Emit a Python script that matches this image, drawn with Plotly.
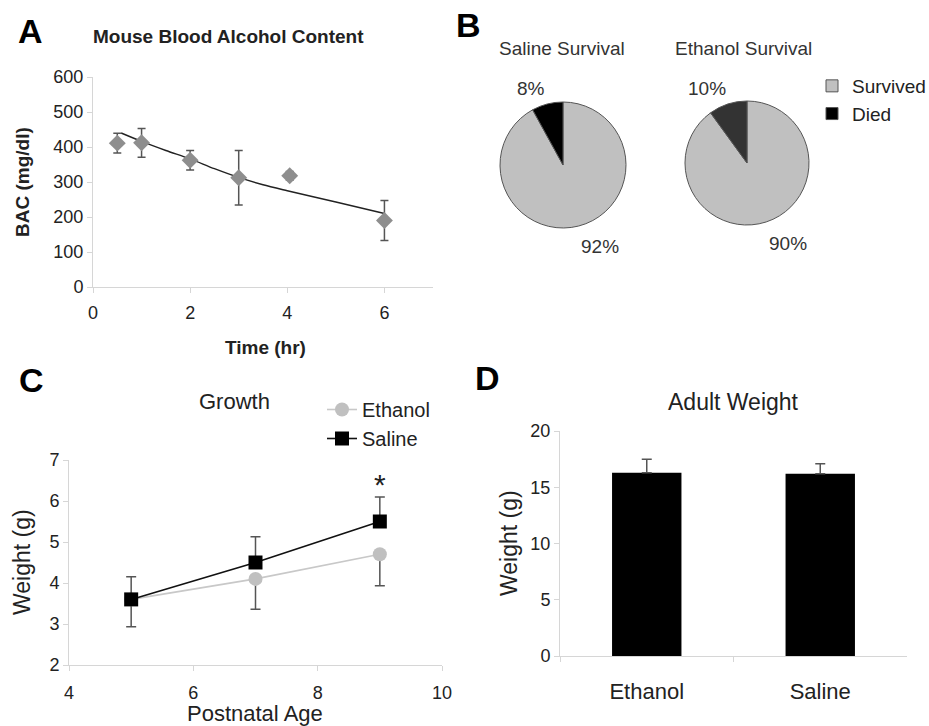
import plotly.graph_objects as go

W, H = 929, 726
FONT = "Liberation Sans, Arial, sans-serif"

# ---- Panel A data: Mouse Blood Alcohol Content ----
bac_time = [0.5, 1, 2, 3, 4.05, 6]
bac_mean = [411, 412, 362, 312, 318, 190]
bac_err = [28, 41, 28, 78, 12, 57]
fit_time = [0.58, 1, 1.5, 2, 2.5, 3, 3.5, 4, 5, 6]
fit_bac = [440, 416, 390, 366, 338, 313, 292, 275, 243, 210]

# ---- Panel B data: survival ----
surv_labels = ["Survived", "Died"]
saline_surv = [92, 8]
ethanol_surv = [90, 10]

# ---- Panel C data: growth ----
age = [5, 7, 9]
eth_weight = [3.6, 4.1, 4.7]
eth_err_minus = [0.67, 0.74, 0.77]
sal_weight = [3.6, 4.5, 5.5]
sal_err_plus = [0.55, 0.63, 0.6]

# ---- Panel D data: adult weight ----
groups = ["Ethanol", "Saline"]
adult_weight = [16.3, 16.2]
adult_err = [1.2, 0.9]


def px(x):
    return x / W


def py(y):
    return 1 - y / H


fig = go.Figure()

# Panel A
fig.add_trace(go.Scatter(
    x=fit_time, y=fit_bac, mode="lines", line=dict(color="#222222", width=1.4, shape="spline", smoothing=0.8),
    xaxis="x", yaxis="y", showlegend=False, hoverinfo="skip"))
fig.add_trace(go.Scatter(
    x=bac_time, y=bac_mean, mode="markers",
    marker=dict(symbol="diamond", size=13, color="#8e8e8e"),
    error_y=dict(type="data", array=bac_err, color="#555555", thickness=1.5, width=4),
    xaxis="x", yaxis="y", showlegend=False))

# Panel B pies
pie_colors_s = ["#c0c0c0", "#000000"]
pie_colors_e = ["#c0c0c0", "#333333"]
fig.add_trace(go.Pie(
    labels=surv_labels, values=saline_surv, sort=False, direction="clockwise", rotation=0,
    marker=dict(colors=pie_colors_s, line=dict(color="#555555", width=1)),
    textinfo="none",
    domain=dict(x=[px(500), px(626)], y=[py(228), py(102)]),
    legend="legend", showlegend=True))
fig.add_trace(go.Pie(
    labels=surv_labels, values=ethanol_surv, sort=False, direction="clockwise", rotation=0,
    marker=dict(colors=pie_colors_e, line=dict(color="#555555", width=1)),
    textinfo="none",
    domain=dict(x=[px(685), px(809)], y=[py(225), py(101)]),
    legend="legend", showlegend=False))

# Panel C
fig.add_trace(go.Scatter(
    x=age, y=eth_weight, mode="lines+markers", name="Ethanol",
    line=dict(color="#c8c8c8", width=1.6),
    marker=dict(symbol="circle", size=14, color="#c0c0c0"),
    error_y=dict(type="data", symmetric=False, array=[0, 0, 0], arrayminus=eth_err_minus,
                 color="#555555", thickness=1.5, width=5),
    xaxis="x2", yaxis="y2", legend="legend2"))
fig.add_trace(go.Scatter(
    x=age, y=sal_weight, mode="lines+markers", name="Saline",
    line=dict(color="#111111", width=1.6),
    marker=dict(symbol="square", size=14, color="#000000"),
    error_y=dict(type="data", symmetric=False, array=sal_err_plus, arrayminus=[0, 0, 0],
                 color="#555555", thickness=1.5, width=5),
    xaxis="x2", yaxis="y2", legend="legend2"))

# Panel D
fig.add_trace(go.Bar(
    x=groups, y=adult_weight, marker=dict(color="#000000", line=dict(color="#000000", width=0)),
    error_y=dict(type="data", symmetric=False, array=adult_err, arrayminus=[0, 0],
                 color="#555555", thickness=1.5, width=5),
    xaxis="x3", yaxis="y3", showlegend=False))

axis_common = dict(showline=True, linecolor="#d6d6d6", linewidth=1, ticks="outside",
                   tickcolor="#d6d6d6", ticklen=5, showgrid=False, zeroline=False,
                   automargin=False,
                   tickfont=dict(size=18, color="#222222", family=FONT))

fig.update_layout(
    width=W, height=H, margin=dict(l=0, r=0, t=0, b=0, pad=0, autoexpand=False),
    paper_bgcolor="white", plot_bgcolor="white",
    font=dict(family=FONT, color="#222222"),
    bargap=0.6,
    xaxis=dict(domain=[px(93), px(433)], range=[0, 7], tickvals=[0, 2, 4, 6],
               anchor="y", ticklabelstandoff=4, **axis_common),
    yaxis=dict(domain=[py(287), py(77)], range=[0, 600], tickvals=[0, 100, 200, 300, 400, 500, 600],
               anchor="x", **axis_common),
    xaxis2=dict(domain=[px(69), px(442)], range=[4, 10], tickvals=[4, 6, 8, 10],
                anchor="y2", ticklabelstandoff=6, **axis_common),
    yaxis2=dict(domain=[py(665), py(460)], range=[2, 7], tickvals=[2, 3, 4, 5, 6, 7],
                anchor="x2", **axis_common),
    xaxis3=dict(domain=[px(560), px(907)], range=[-0.5, 1.5], tickson="boundaries",
                anchor="y3", ticklabelstandoff=16,
                **{**axis_common, "tickfont": dict(size=22, color="#222222", family=FONT)}),
    yaxis3=dict(domain=[py(656), py(431)], range=[0, 20], tickvals=[0, 5, 10, 15, 20],
                anchor="x3", **axis_common),
    legend=dict(x=px(812), y=py(67), xanchor="left", yanchor="top",
                font=dict(size=19, color="#222222", family=FONT),
                bgcolor="rgba(0,0,0,0)", itemwidth=30, tracegroupgap=0),
    legend2=dict(x=px(322), y=py(390), xanchor="left", yanchor="top",
                 font=dict(size=20, color="#222222", family=FONT),
                 bgcolor="rgba(0,0,0,0)", tracegroupgap=0),
)


def label(text, x, y, size, bold=False, angle=0, color="#222222"):
    fig.add_annotation(
        text=f"<b>{text}</b>" if bold else text, x=px(x), y=py(y), xref="paper", yref="paper",
        xanchor="center", yanchor="middle", showarrow=False, textangle=angle,
        font=dict(size=size, color=color, family=FONT))


# Panel letters
label("A", 30, 31, 34, bold=True, color="#000000")
label("B", 468, 25, 34, bold=True, color="#000000")
label("C", 32, 380, 34, bold=True, color="#000000")
label("D", 487, 378, 34, bold=True, color="#000000")

# Panel A texts
label("Mouse Blood Alcohol Content", 228, 36, 19, bold=True)
label("BAC (mg/dl)", 23, 182, 19, bold=True, angle=-90)
label("Time (hr)", 265, 347, 19, bold=True)

# Panel B texts
label("Saline Survival", 562, 48, 19, color="#333333")
label("Ethanol Survival", 743, 48, 19, color="#333333")
# pie percentage labels (survived, died)
label(f"{saline_surv[1]}%", 531, 88, 19, color="#333333")
label(f"{saline_surv[0]}%", 600, 247, 19, color="#333333")
label(f"{ethanol_surv[1]}%", 707, 88, 19, color="#333333")
label(f"{ethanol_surv[0]}%", 788, 243, 19, color="#333333")

# Panel C texts
label("Growth", 234, 401, 22)
label("*", 380, 484, 30)
label("Weight (g)", 22, 562, 23, angle=-90)
label("Postnatal Age", 255, 713, 22)

# Panel D texts
label("Adult Weight", 733, 402, 23)
label("Weight (g)", 509, 543, 23, angle=-90)

fig.write_html("out.html", config={"displayModeBar": False},
               post_script="document.body.style.margin='0';document.body.style.overflow='hidden';")
